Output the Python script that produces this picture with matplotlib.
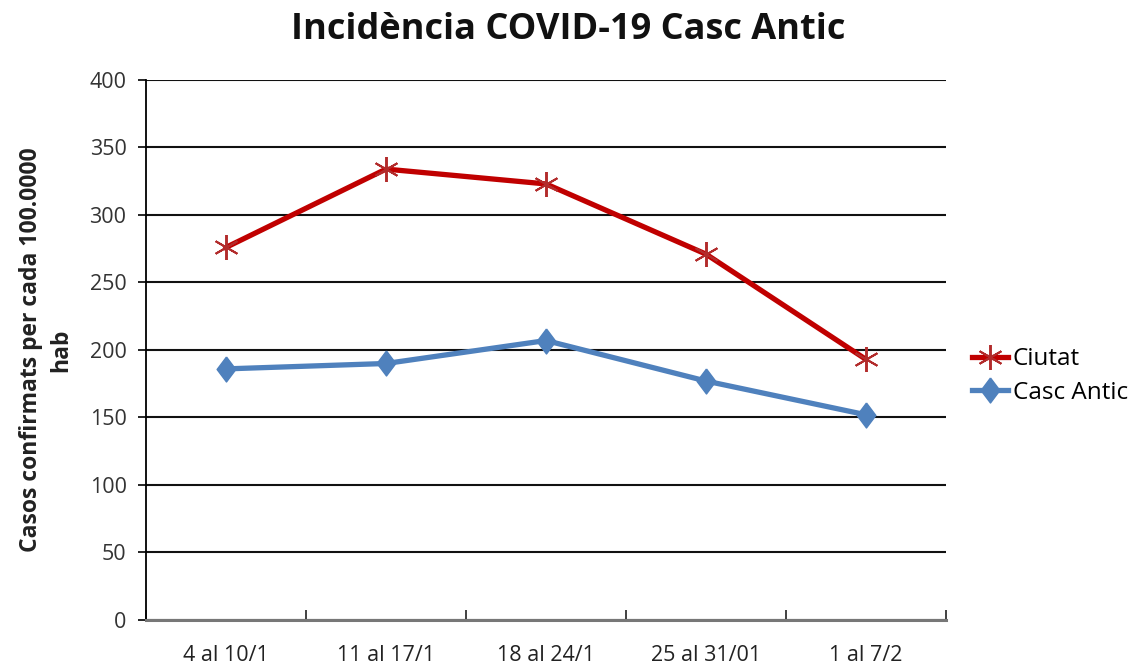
import matplotlib

matplotlib.use("Agg")
import matplotlib.pyplot as plt  # noqa: E402
import numpy as np  # noqa: E402

plt.rcParams["font.family"] = ["Open Sans", "DejaVu Sans"]

weeks = ["4 al 10/1", "11 al 17/1", "18 al 24/1", "25 al 31/01", "1 al 7/2"]
ciutat = [276, 334, 323, 271, 193]
casc_antic = [186, 190, 207, 177, 152]
yticks = [0, 50, 100, 150, 200, 250, 300, 350, 400]

# slightly tall diamond like the spreadsheet marker
diamond = [(0, 1), (0.75, 0), (0, -1), (-0.75, 0), (0, 1)]

fig = plt.figure(figsize=(11.3, 6.65), dpi=100)
ax = fig.add_axes([0.1292, 0.0677, 0.7080, 0.8120])

x = np.arange(len(weeks))
ax.plot(x, ciutat, color="#C00000", lw=3.8, marker=(6, 2, 0), ms=18,
        mec="#B22B2B", mew=1.4, label="Ciutat", zorder=3)
ax.plot(x, casc_antic, color="#4F81BD", lw=3.8, marker=diamond, ms=18,
        mfc="#4F81BD", mec="#4F81BD", label="Casc Antic", zorder=3)

ax.set_xlim(-0.5, len(weeks) - 0.5)
ax.set_ylim(0, 400)
ax.set_yticks(yticks)
ax.set_xticks(x)
ax.set_xticklabels(weeks)
ax.set_xticks(np.arange(len(weeks) + 1) - 0.5, minor=True)
ax.tick_params(axis="x", which="major", length=0, labelsize=15.5, pad=18, colors="#222222")
ax.tick_params(axis="x", which="minor", length=7, direction="in", width=1.3, color="#333333")
ax.tick_params(axis="y", length=6, width=1.2, labelsize=15.5, pad=8, labelcolor="#333333")

ax.grid(axis="y", color="#111111", lw=1.5)
ax.set_axisbelow(True)
for s in ("top", "right"):
    ax.spines[s].set_visible(False)
ax.spines["left"].set_linewidth(1.3)
ax.spines["bottom"].set_linewidth(2.2)
ax.spines["bottom"].set_color("#777777")

ax.set_ylabel("Casos confirmats per cada 100.0000\nhab", fontsize=16.5,
              fontweight="bold", color="#222222", labelpad=12, linespacing=1.3)
fig.text(0.503, 0.955, "Incidència COVID-19 Casc Antic", fontsize=26,
         fontweight="bold", ha="center", va="center", color="#111111")

ax.legend(loc="center left", bbox_to_anchor=(1.032, 0.452), frameon=False,
          fontsize=17.5, handlelength=1.5, handletextpad=0.2, labelspacing=0.4,
          borderaxespad=0, borderpad=0)

fig.savefig("out.png", dpi=100)
